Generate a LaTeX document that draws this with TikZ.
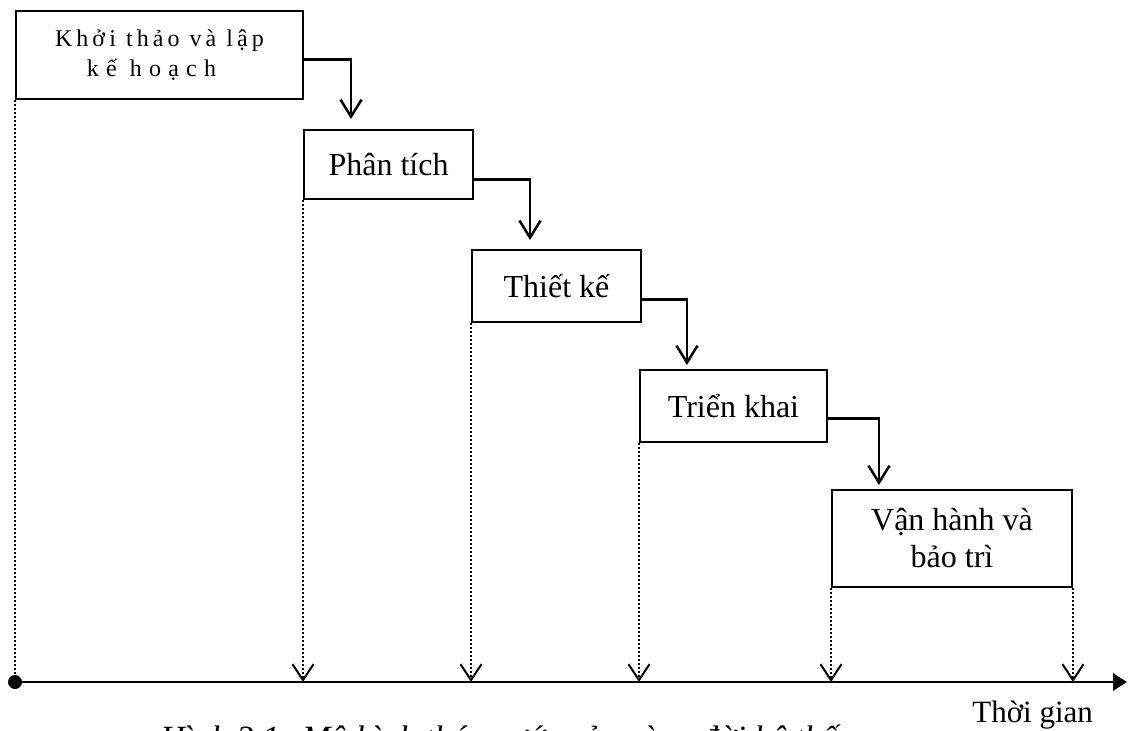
\documentclass[tikz,border=0pt]{standalone}
\usepackage{fontspec}
\setmainfont{Liberation Serif}
\usepackage{tikz}
\usetikzlibrary{arrows.meta,calc}

\begin{document}
\begin{tikzpicture}[x=0.5pt, y=-0.5pt,
    phase/.style={draw, line width=1pt, anchor=north west, align=center,
      inner sep=0pt, font=\fontsize{16}{18.5}\selectfont},
    flow/.style={line width=1.25pt, -{Straight Barb[length=8.5pt, width=10.5pt, line width=1.25pt]}},
    guide/.style={line width=1pt, dash pattern=on 1pt off 1pt},
    guidetip/.style={guide, -{Straight Barb[length=8pt, width=10.5pt, line width=1pt]}},
    axisline/.style={line width=1.25pt, -{Triangle[length=7pt, width=8.5pt]}},
    axislabel/.style={anchor=base west, inner sep=0pt}
  ]
    \useasboundingbox (0,0) rectangle (1131,730);
    \clip (0,0) rectangle (1131,730);
    \node[phase, minimum width=143.5pt, minimum height=44pt,
      font=\fontsize{12}{15}\selectfont\addfontfeature{LetterSpace=17}] (khoithao) at (15,10)
      {Khởi thảo và lập\\{\addfontfeature{LetterSpace=30}kế hoạch}\hspace*{8pt}};
    \node[phase, minimum width=84.5pt, minimum height=34.5pt] (phantich) at (303,129)
      {Phân tích};
    \node[phase, minimum width=84.5pt, minimum height=36pt] (thietke) at (471,249)
      {Thiết kế};
    \node[phase, minimum width=93.5pt, minimum height=36pt] (trienkhai) at (639,369)
      {Triển khai};
    \node[phase, minimum width=120pt, minimum height=48.5pt] (vanhanh) at (831,489)
      {Vận hành và\\bảo trì};

    \node[circle, fill, inner sep=0pt, minimum size=7pt] (origin) at (15,682) {};
    \coordinate (axisend) at (1127,682);
    \draw[axisline] (origin.center) -- (axisend);
    \node[axislabel, font=\fontsize{15.5}{18}\selectfont] (timelabel) at (972,722) {Thời gian};
    \node[axislabel, font=\fontsize{17}{20}\selectfont\itshape] (caption) at (160,749)
      {Hình 3.1: Mô hình thác nước của vòng đời hệ thống};

    \coordinate (tip1) at (351,119);
    \coordinate (tip2) at (530,240);
    \coordinate (tip3) at (687,365);
    \coordinate (tip4) at (879,485);
    \draw[flow] ($(khoithao.south east)!0.45!(khoithao.north east)$) -| (tip1);
    \draw[flow] ($(phantich.south east)!0.29!(phantich.north east)$) -| (tip2);
    \draw[flow] ($(thietke.south east)!0.32!(thietke.north east)$) -| (tip3);
    \draw[flow] ($(trienkhai.south east)!0.33!(trienkhai.north east)$) -| (tip4);

    \draw[guide] (khoithao.south west) -- (origin);
    \foreach \stage in {phantich, thietke, trienkhai, vanhanh}
      \draw[guidetip] (\stage.south west) -- (\stage.south west |- origin.center);
    \draw[guidetip] (vanhanh.south east) -- (vanhanh.south east |- origin.center);
  \end{tikzpicture}
\end{document}
